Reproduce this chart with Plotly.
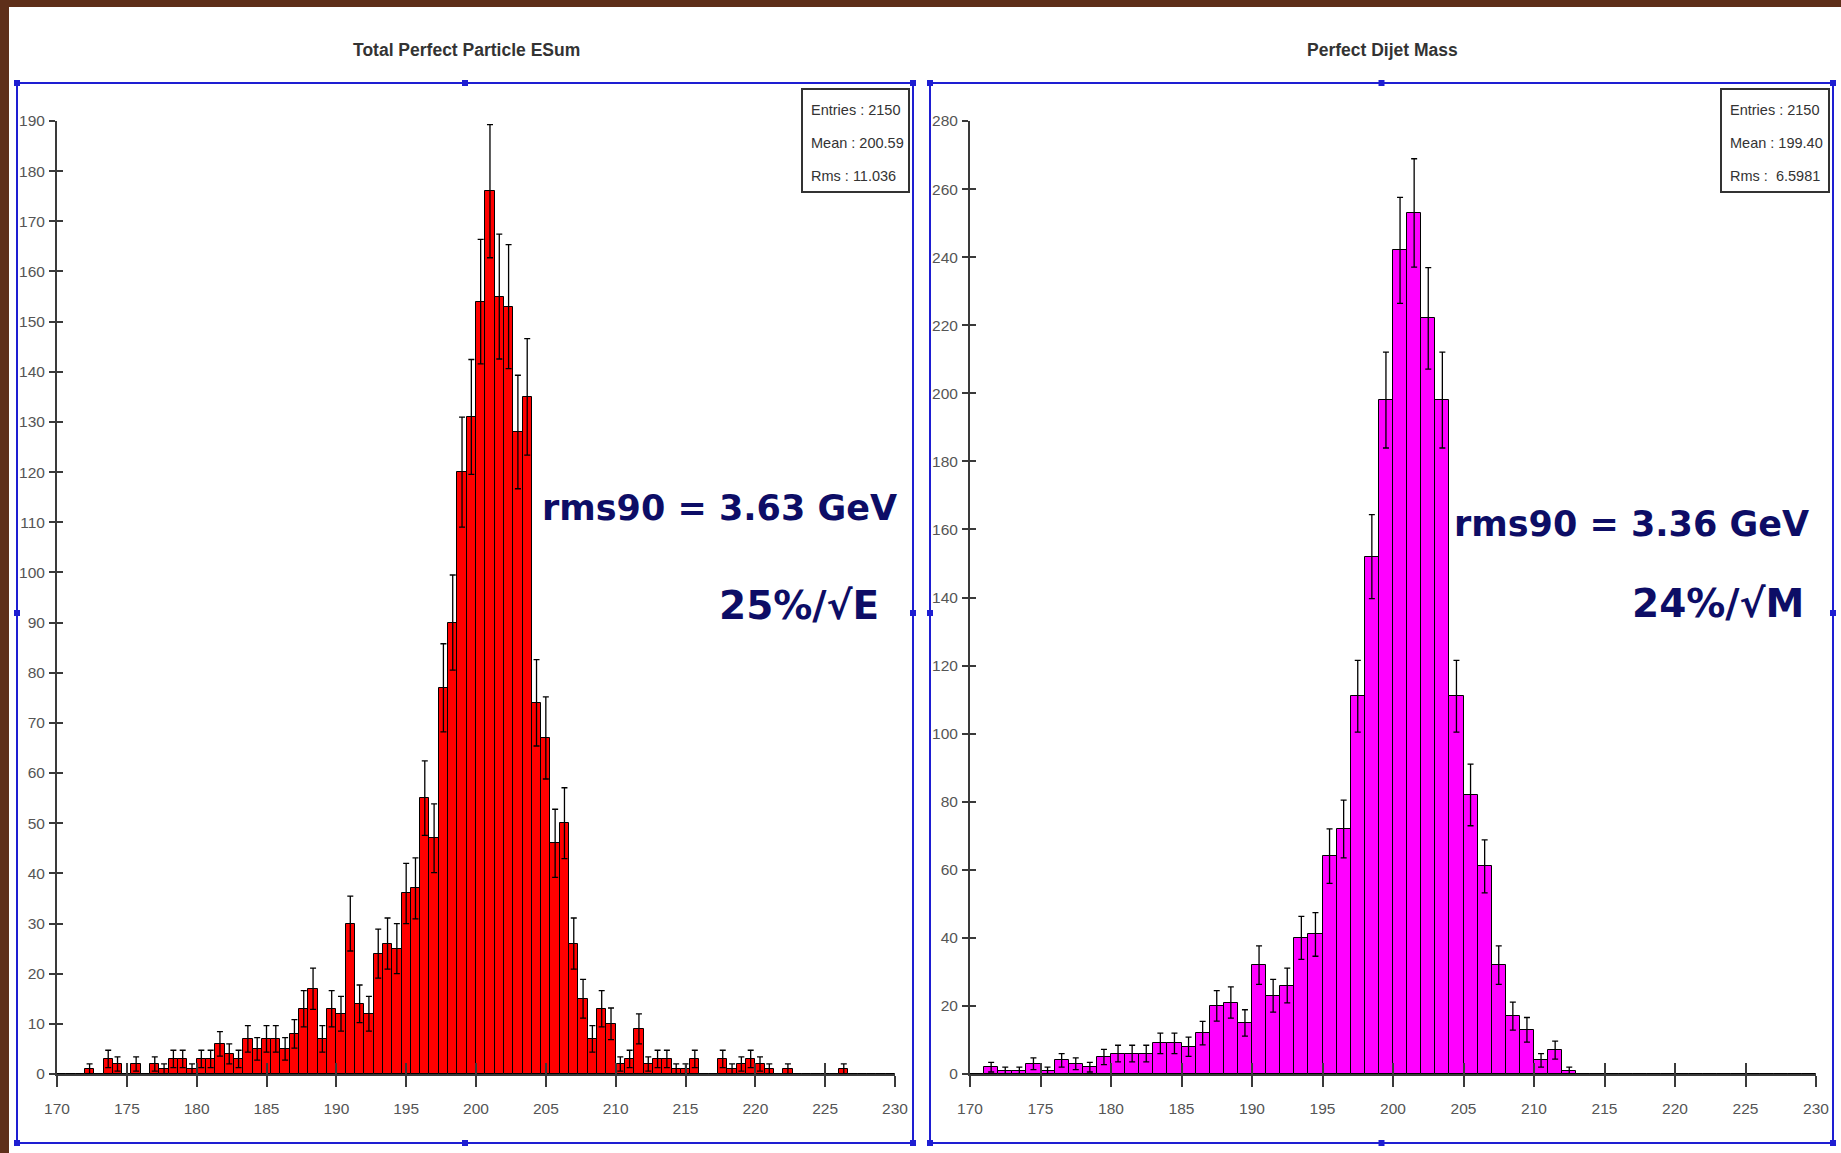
import numpy as np
import plotly.graph_objects as go

W, H = 1841, 1153

# ---------------- data ----------------
esum_title = "Total Perfect Particle ESum"
esum_range = (170, 230)
esum_nbins = 90
esum_counts = [
    0, 0, 0, 1, 0, 3, 2, 0, 2, 0,
    2, 1, 3, 3, 1, 3, 3, 6, 4, 3,
    7, 5, 7, 7, 5, 8, 13, 17, 7, 13,
    12, 30, 14, 12, 24, 26, 25, 36, 37, 55,
    47, 77, 90, 120, 131, 154, 176, 155, 153, 128,
    135, 74, 67, 46, 50, 26, 15, 7, 13, 10,
    2, 3, 9, 2, 3, 3, 1, 1, 3, 0,
    0, 3, 1, 2, 3, 2, 1, 0, 1, 0,
    0, 0, 0, 0, 1, 0, 0, 0, 0, 0,
]
esum_stats = ["Entries : 2150", "Mean : 200.59", "Rms : 11.036"]
esum_notes = ["rms90 = 3.63 GeV", "25%/\u221aE"]

mass_title = "Perfect Dijet Mass"
mass_range = (170, 230)
mass_nbins = 60
mass_counts = [
    0, 2, 1, 1, 3, 1, 4, 3, 2, 5,
    6, 6, 6, 9, 9, 8, 12, 20, 21, 15,
    32, 23, 26, 40, 41, 64, 72, 111, 152, 198,
    242, 253, 222, 198, 111, 82, 61, 32, 17, 13,
    4, 7, 1, 0, 0, 0, 0, 0, 0, 0,
    0, 0, 0, 0, 0, 0, 0, 0, 0, 0,
]
mass_stats = ["Entries : 2150", "Mean : 199.40", "Rms :\u00a0 6.5981"]
mass_notes = ["rms90 = 3.36 GeV", "24%/\u221aM"]

x_ticks = list(range(170, 231, 5))
esum_yticks = list(range(0, 191, 10))
mass_yticks = list(range(0, 281, 20))

# ---------------- helpers ----------------
def px(x):
    return x / W

def py(y):
    return 1 - y / H

NARROW = "Liberation Sans, Arial, sans-serif"
BIG = "DejaVu Sans, Verdana, sans-serif"
NAVY = "#0d0d66"
BLUE = "#1e1ed2"
AXC = "#3a3a3a"


def hist_trace(counts, rng, nbins, color, xa, ya):
    edges = np.linspace(rng[0], rng[1], nbins + 1)
    centers = 0.5 * (edges[:-1] + edges[1:])
    width = edges[1] - edges[0]
    c = np.array(counts, dtype=float)
    return go.Bar(
        x=centers, y=c, width=width,
        marker=dict(color=color, line=dict(color="#000000", width=1)),
        error_y=dict(type="data", array=np.sqrt(c), visible=True,
                     color="#000000", thickness=1.3, width=3),
        xaxis=xa, yaxis=ya, showlegend=False, hoverinfo="x+y",
    )


fig = go.Figure()
fig.add_trace(hist_trace(esum_counts, esum_range, esum_nbins, "#ff0000", "x", "y"))
fig.add_trace(hist_trace(mass_counts, mass_range, mass_nbins, "#ff00ff", "x2", "y2"))
# invisible helpers so the tick-overlay axes get drawn
fig.add_trace(go.Scatter(x=[None], y=[None], xaxis="x3", yaxis="y3", showlegend=False, hoverinfo="skip"))
fig.add_trace(go.Scatter(x=[None], y=[None], xaxis="x4", yaxis="y4", showlegend=False, hoverinfo="skip"))

ydom = [py(1074), py(121)]
xdom1 = [px(57), px(895)]
xdom2 = [px(970), px(1816)]

tickfont = dict(family=NARROW, size=15.5, color="#555555")

def xaxis_main(dom, anchor):
    return dict(domain=dom, anchor=anchor, range=[170, 230], tickvals=x_ticks,
                ticks="outside", ticklen=11, tickwidth=1.5, tickcolor=AXC,
                showline=True, linecolor=AXC, linewidth=2, showgrid=False,
                zeroline=False, tickfont=tickfont, ticklabelstandoff=8,
                automargin=False, fixedrange=True)

def yaxis_main(dom, anchor, top, ticks):
    return dict(domain=dom, anchor=anchor, range=[0, top], tickvals=ticks,
                ticks="outside", ticklen=6, tickwidth=1.5, tickcolor=AXC,
                showline=True, linecolor=AXC, linewidth=2, showgrid=False,
                zeroline=False, tickfont=tickfont, ticklabelstandoff=1,
                automargin=False, fixedrange=True)

def overlay_axis(over, anchor, rng, vals, ln):
    return dict(overlaying=over, anchor=anchor, range=rng, tickvals=vals, ticks="inside",
                ticklen=ln, tickwidth=1.5, tickcolor=AXC, showticklabels=False, showline=False,
                showgrid=False, zeroline=False, automargin=False, fixedrange=True)

fig.update_layout(
    width=W, height=H,
    margin=dict(l=0, r=0, t=0, b=0, pad=0, autoexpand=False),
    paper_bgcolor="#5e2f1a",
    plot_bgcolor="rgba(0,0,0,0)",
    bargap=0,
    showlegend=False,
    xaxis=xaxis_main(xdom1, "y"),
    yaxis=yaxis_main(ydom, "x", 190, esum_yticks),
    xaxis2=xaxis_main(xdom2, "y2"),
    yaxis2=yaxis_main(ydom, "x2", 280, mass_yticks),
    xaxis3=overlay_axis("x", "y3", [170, 230], x_ticks, 11),
    yaxis3=overlay_axis("y", "x3", [0, 190], esum_yticks, 6),
    xaxis4=overlay_axis("x2", "y4", [170, 230], x_ticks, 11),
    yaxis4=overlay_axis("y2", "x4", [0, 280], mass_yticks, 6),
)

shapes = []
# white slide area
shapes.append(dict(type="rect", xref="paper", yref="paper", x0=px(9), x1=px(W), y0=py(7), y1=py(H),
                   fillcolor="#ffffff", line=dict(width=0), layer="below"))

frames = [(17, 83, 913, 1143), (930, 83, 1833, 1143)]
for (x0, y0, x1, y1) in frames:
    shapes.append(dict(type="rect", xref="paper", yref="paper", x0=px(x0), x1=px(x1),
                       y0=py(y0), y1=py(y1), line=dict(color=BLUE, width=2), fillcolor="rgba(0,0,0,0)"))
    xm, ym = (x0 + x1) / 2, (y0 + y1) / 2
    for hx, hy in [(x0, y0), (xm, y0), (x1, y0), (x0, ym), (x1, ym), (x0, y1), (xm, y1), (x1, y1)]:
        shapes.append(dict(type="rect", xref="paper", yref="paper", x0=px(hx - 3), x1=px(hx + 3),
                           y0=py(hy - 3), y1=py(hy + 3), fillcolor=BLUE, line=dict(width=0)))

boxes = [(802, 89, 909, 192), (1721, 89, 1829, 192)]
for (x0, y0, x1, y1) in boxes:
    shapes.append(dict(type="rect", xref="paper", yref="paper", x0=px(x0), x1=px(x1),
                       y0=py(y0), y1=py(y1), line=dict(color="#333333", width=2),
                       fillcolor="#ffffff"))
fig.update_layout(shapes=shapes)

ann = []
# titles
ann.append(dict(text="<b>" + esum_title + "</b>", x=px(466), y=py(50), xref="paper", yref="paper",
                showarrow=False, xanchor="center", yanchor="middle",
                font=dict(family=NARROW, size=17.5, color="#333333")))
ann.append(dict(text="<b>" + mass_title + "</b>", x=px(1382), y=py(50), xref="paper", yref="paper",
                showarrow=False, xanchor="center", yanchor="middle",
                font=dict(family=NARROW, size=17.5, color="#333333")))
# stats
for stats, x0 in [(esum_stats, 809), (mass_stats, 1728)]:
    for line, yc in zip(stats, [110, 143, 176]):
        ann.append(dict(text=line, x=px(x0), y=py(yc), xref="paper", yref="paper",
                        showarrow=False, xanchor="left", yanchor="middle",
                        font=dict(family=NARROW, size=14.5, color="#333333")))
# big notes
notes_pos = [(esum_notes[0], 540, 508, 35), (esum_notes[1], 717, 605, 39),
             (mass_notes[0], 1452, 524, 35), (mass_notes[1], 1630, 603, 39)]
for txt, x0, yc, fs in notes_pos:
    ann.append(dict(text="<b>" + txt + "</b>", x=px(x0), y=py(yc), xref="paper", yref="paper",
                    showarrow=False, xanchor="left", yanchor="middle",
                    font=dict(family=BIG, size=fs, color=NAVY)))
fig.update_layout(annotations=ann)

fig.write_html(
    "out.html",
    config={"displayModeBar": False},
    post_script="document.body.style.margin='0';document.body.style.padding='0';"
                "document.body.style.overflow='hidden';",
)
